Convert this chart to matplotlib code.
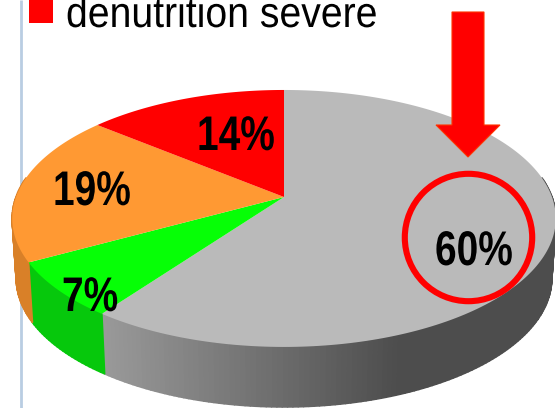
import numpy as np
import matplotlib
matplotlib.use("Agg")
import matplotlib.pyplot as plt
from matplotlib.collections import PolyCollection
from matplotlib.colors import to_rgb
from matplotlib.patches import Circle, Polygon, Rectangle
from matplotlib.patheffects import AbstractPathEffect
from matplotlib.transforms import Affine2D

# Shares drawn clockwise from twelve o'clock
categories = ["normal", "denutrition legere", "denutrition moderee", "denutrition severe"]
shares = [60, 7, 19, 14]
value_labels = ["60%", "7%", "19%", "14%"]
legend_label = "denutrition severe"

top_colors = ["#BABABA", "#06FF06", "#FF9933", "#FF0000"]
side_colors = ["#8F8F8F", "#06C80C", "#D98028", "#CC0000"]
label_anchors = [(435, 265), (62, 311), (53, 205), (197, 150)]  # left end, baseline

CX, CY = 284.0, 197.0      # apex of the pie on the canvas
RX, A, K = 268.0, 124.9, 0.167   # perspective of the tilted disc
DEPTH, SHRINK = 60.0, 0.985      # rim height and narrowing of the lower disc


class Condensed(AbstractPathEffect):
    """Squeeze glyphs horizontally about the text origin."""

    def __init__(self, sx):
        super().__init__()
        self.sx = sx

    def draw_path(self, renderer, gc, tpath, affine, rgbFace=None):
        renderer.draw_path(gc, tpath, Affine2D().scale(self.sx, 1) + affine, rgbFace)


def project(theta, lower=False):
    """Map a clockwise angle on the disc to canvas pixels."""
    u, v = np.sin(theta), np.cos(theta)
    d = 1 + K * v
    x = u / d
    y = -A * v / d
    if lower:
        return CX + RX * SHRINK * x, CY + y + DEPTH
    return CX + RX * x, CY + y


def rim_shade(color, theta, idx):
    """Darken the grey rim towards the right; the other rims stay nearly flat."""
    rgb = np.array(to_rgb(color))
    if idx == 0:
        x = project(theta)[0]
        t = np.clip((x - 105) / (400 - 105), 0, 1)
        return tuple(np.array([0.60, 0.60, 0.60]) * (1 - t) + np.array([0.30, 0.30, 0.30]) * t)
    return tuple(rgb)


fig = plt.figure(figsize=(5.55, 4.08), dpi=100)
ax = fig.add_axes([0, 0, 1, 1])
ax.set_xlim(0, 555)
ax.set_ylim(408, 0)
ax.axis("off")

# Frame line left of the chart
ax.plot([20.5, 20.5], [0, 408], color="#B9CDE2", lw=2, solid_capstyle="butt", zorder=1)

edges = np.concatenate([[0], np.cumsum(shares)]) / sum(shares) * 2 * np.pi

# Rim: overlapping strips along the front of the disc
polys, cols = [], []
for i in range(len(shares)):
    lo, hi = edges[i], edges[i + 1]
    lo_vis, hi_vis = max(lo, np.pi * 0.45), min(hi, np.pi * 1.55)
    if hi_vis <= lo_vis:
        continue
    ts = np.linspace(lo_vis, hi_vis, max(int((hi_vis - lo_vis) * 60), 2))
    for a, b in zip(ts[:-1], ts[1:]):
        xa, ya = project(a)
        xb, yb = project(b)
        xc, yc = project(b, True)
        xd, yd = project(a, True)
        polys.append([(xa, ya), (xb, yb), (xc, yc), (xd, yd)])
        cols.append(rim_shade(side_colors[i], 0.5 * (a + b), i))
ax.add_collection(PolyCollection(polys, facecolors=cols, edgecolors=cols, linewidths=1.2, zorder=2))

# Top face
for i in range(len(shares)):
    ts = np.linspace(edges[i], edges[i + 1], 200)
    x, y = project(ts)
    pts = np.column_stack([np.r_[CX, x], np.r_[CY, y]])
    ax.add_patch(Polygon(pts, closed=True, fc=top_colors[i], ec="none", zorder=3))

for lab, (x, y) in zip(value_labels, label_anchors):
    ax.text(x, y, lab, ha="left", va="baseline", fontsize=35, fontweight="bold", color="black",
            family=["Liberation Sans"], zorder=5, path_effects=[Condensed(0.80)])

# Legend entry, running off the top edge
ax.add_patch(Rectangle((29, -1), 24, 24, fc="#FF0000", ec="none", zorder=4))
ax.text(66, 27, legend_label, ha="left", va="baseline", fontsize=31, color="black",
        family=["Liberation Sans"], zorder=5, path_effects=[Condensed(0.91)])

# Callout arrow and ring around the largest share
arrow = [(452, 12), (484, 12), (484, 125), (500, 125), (468, 157), (436, 125), (452, 125)]
ax.add_patch(Polygon(arrow, closed=True, fc="#FF0000", ec="#FF3300", lw=0.8, zorder=6))
ax.add_patch(Circle((468.5, 237.5), 63.7, fc="none", ec="#FF0000", lw=4.4, zorder=6))

fig.savefig("out.png", dpi=100)
